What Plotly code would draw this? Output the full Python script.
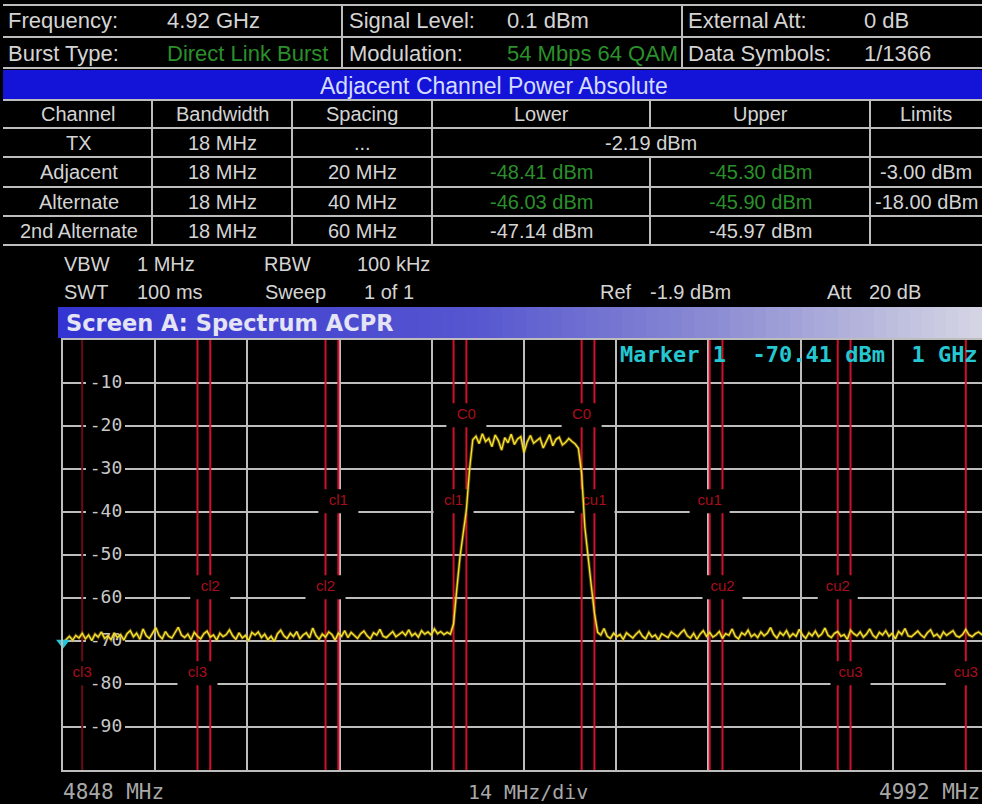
import numpy as np
import plotly.graph_objects as go

FIG_W, FIG_H = 982, 804

# ---------------- instrument settings ----------------
START_MHZ = 4848.0
STOP_MHZ = 4992.0
CENTER_MHZ = 4920.0
CHANNEL_BW_MHZ = 18.0
SPACINGS_MHZ = [20.0, 40.0, 60.0]
LEVEL_TOP_DBM = 0
LEVEL_BOTTOM_DBM = -100
level_ticks = [-10, -20, -30, -40, -50, -60, -70, -80, -90]

marker_level_dbm = -70.41
marker_text = "Marker 1  -70.41 dBm  1 GHz"

# ---------------- measured trace (0.5 MHz sweep points) ----------------
floor_lower = [
    -70.4, -69.6, -68.9, -69.8, -68.7, -69.3, -68.2, -69.5, -68.6, -69.9,
    -68.4, -69.1, -67.9, -69.4, -68.8, -69.7, -68.1, -69.2, -68.5, -69.8,
    -68.3, -67.6, -69.0, -68.2, -69.6, -67.2, -68.8, -69.4, -68.0, -66.9,
    -68.7, -69.5, -67.8, -68.9, -69.3, -68.1, -66.8, -68.6, -69.2, -68.4,
    -69.7, -68.0, -68.9, -69.5, -68.3, -67.7, -69.1, -68.6, -69.8, -68.2,
    -69.0, -68.5, -67.4, -68.8, -69.6, -68.1, -69.3, -68.7, -69.9, -68.0,
    -68.6, -67.9, -69.2, -68.4, -69.7, -68.9, -70.1, -68.3, -67.5, -68.8,
    -69.4, -68.2, -69.0, -67.8, -69.5, -68.6, -68.1, -69.3, -67.0, -68.7,
    -69.6, -68.4, -69.1, -67.9, -68.5, -69.8, -68.2, -68.9, -67.6, -69.2,
    -68.0, -68.7, -69.4, -68.3, -67.7, -68.8, -69.5, -68.1, -68.6, -67.3,
    -68.9, -69.2, -68.4, -67.8, -69.0, -68.5, -67.9, -68.7, -67.4, -68.8,
    -68.2, -69.1, -67.6, -68.4, -67.9, -68.6, -67.2, -68.3, -67.8, -68.5,
    -68.0, -68.4,
]
rising_edge = [-66.0, -58.0, -50.5, -45.0, -39.5, -30.0]
tx_plateau = [
    -23.2, -22.4, -24.1, -21.8, -23.6, -22.9, -24.8, -22.1, -23.4, -25.6,
    -22.7, -23.9, -21.9, -24.3, -23.0, -22.5, -26.2, -23.7, -22.2, -24.0,
    -23.3, -22.8, -25.1, -23.5, -22.0, -24.6, -23.1, -22.6, -24.4, -23.8,
    -22.9, -23.6, -24.2, -25.2,
]
falling_edge = [-31.0, -43.5, -51.0, -57.0, -63.5, -68.0]
floor_upper = [
    -68.6, -67.1, -68.9, -69.4, -68.2, -69.0, -68.5, -69.6, -68.1, -68.8,
    -69.3, -68.4, -67.7, -68.9, -69.5, -68.0, -69.1, -68.6, -69.8, -68.3,
    -68.7, -69.2, -67.9, -68.5, -69.0, -68.1, -67.4, -68.8, -69.3, -68.2,
    -69.6, -68.4, -67.6, -68.9, -68.0, -69.1, -68.6, -67.8, -69.4, -68.3,
    -68.7, -67.2, -68.9, -69.5, -68.1, -68.6, -67.5, -69.0, -68.4, -69.2,
    -67.9, -68.8, -68.2, -66.9, -68.5, -69.3, -68.0, -68.7, -67.6, -69.1,
    -68.3, -68.9, -67.3, -68.6, -69.4, -68.1, -68.8, -67.7, -69.0, -68.4,
    -67.0, -68.7, -69.2, -68.2, -67.8, -68.9, -68.5, -69.6, -67.5, -68.3,
    -68.8, -67.9, -69.1, -68.4, -67.2, -68.7, -69.3, -68.0, -68.6, -67.6,
    -68.9, -68.2, -69.5, -67.8, -68.5, -67.1, -68.8, -69.0, -68.3, -67.7,
    -68.6, -69.2, -68.1, -67.4, -68.9, -68.4, -69.3, -67.9, -68.7, -68.2,
    -67.6, -68.8, -69.1, -68.5, -67.3, -68.6, -69.0, -68.3, -67.9, -68.5,
    -68.8,
]
trace_dbm = floor_lower + rising_edge + tx_plateau + falling_edge + floor_upper
sweep_mhz = np.linspace(START_MHZ, STOP_MHZ, len(trace_dbm))

# ---------------- header / result table ----------------
header_row1 = [("Frequency:", "4.92 GHz"), ("Signal Level:", "0.1 dBm"), ("External Att:", "0 dB")]
header_row2 = [("Burst Type:", "Direct Link Burst"), ("Modulation:", "54 Mbps 64 QAM"),
               ("Data Symbols:", "1/1366")]
header_row2_green = [True, True, False]

table_title = "Adjacent Channel Power Absolute"
table_columns = ["Channel", "Bandwidth", "Spacing", "Lower", "Upper", "Limits"]
channel_names = ["TX", "Adjacent", "Alternate", "2nd Alternate"]
channel_bandwidths = ["18 MHz", "18 MHz", "18 MHz", "18 MHz"]
channel_spacings = ["...", "20 MHz", "40 MHz", "60 MHz"]
power_lower = ["-2.19 dBm", "-48.41 dBm", "-46.03 dBm", "-47.14 dBm"]
power_upper = [None, "-45.30 dBm", "-45.90 dBm", "-45.97 dBm"]
power_green = [False, True, True, False]
power_limits = ["", "-3.00 dBm", "-18.00 dBm", ""]

settings_row1 = [("VBW", "1 MHz"), ("RBW", "100 kHz")]
settings_row2 = [("SWT", "100 ms"), ("Sweep", "1 of 1"), ("Ref", "-1.9 dBm"), ("Att", "20 dB")]

# ---------------- geometry / style ----------------
SANS = "Liberation Sans, Arial, sans-serif"
MONO = "DejaVu Sans Mono, monospace"
TXT = "#d4d4d4"
GREEN = "#2b8f2b"
GRID = "#bdbdbd"
RED = "#cf1028"
RED_DIM = "#6a0c16"
LABEL_RED = "#a80e1c"

PLOT_L, PLOT_T, PLOT_B = 63, 340, 770
PX_SPAN = 922  # pixels covered by the full span
x_end = START_MHZ + (STOP_MHZ - START_MHZ) * (FIG_W - PLOT_L) / PX_SPAN
mhz_per_px = (STOP_MHZ - START_MHZ) / PX_SPAN
db_per_px = (LEVEL_TOP_DBM - LEVEL_BOTTOM_DBM) / (PLOT_B - PLOT_T)


def fx(p):
    return p / FIG_W


def fy(p):
    return 1 - p / FIG_H


annotations = []
shapes = []


def text(x, y, s, size, color, anchor="left", family=SANS):
    annotations.append(dict(xref="paper", yref="paper", x=fx(x), y=fy(y), text=s,
                            showarrow=False, xanchor=anchor, yanchor="middle",
                            font=dict(family=family, size=size, color=color)))


def line_px(x0, y0, x1, y1, color=GRID, width=2):
    shapes.append(dict(type="line", xref="paper", yref="paper", x0=fx(x0), x1=fx(x1),
                       y0=fy(y0), y1=fy(y1), line=dict(color=color, width=width)))


def rect_px(x0, y0, x1, y1, color):
    shapes.append(dict(type="rect", xref="paper", yref="paper", x0=fx(x0), x1=fx(x1),
                       y0=fy(y0), y1=fy(y1), fillcolor=color, line=dict(width=0), layer="below"))


# header rows
for yl in (5, 37, 68):
    line_px(3, yl, FIG_W, yl)
for xv in (342, 682):
    line_px(xv, 5, xv, 68)
col_label_x = [6, 347, 686]
col_value_x = [165, 505, 862]
for i, (lab, val) in enumerate(header_row1):
    text(col_label_x[i], 20, lab, 22, TXT)
    text(col_value_x[i], 20, val, 22, TXT)
for i, (lab, val) in enumerate(header_row2):
    text(col_label_x[i], 53, lab, 22, TXT)
    text(col_value_x[i], 53, val, 22, GREEN if header_row2_green[i] else TXT)

# table title bar
rect_px(3, 70, FIG_W, 100, "#1414d8")
text(494, 86, table_title, 23, "#d4dcff", anchor="center")

# table grid
COL_X = [5, 152, 292, 432, 650, 870, FIG_W]
ROW_Y = [100, 128, 157, 187, 216, 245]
for yl in ROW_Y:
    line_px(3, yl, FIG_W, yl)
for xv in (152, 292, 432, 870):
    line_px(xv, 100, xv, 245)
line_px(650, 100, 650, 128)
line_px(650, 157, 650, 245)

col_c = [(COL_X[i] + COL_X[i + 1]) / 2 for i in range(6)]
for i, c in enumerate(table_columns):
    text(col_c[i], 114, c, 20, TXT, anchor="center")
row_c = [(ROW_Y[i] + ROW_Y[i + 1]) / 2 for i in range(1, 5)]
for r in range(4):
    yc = row_c[r]
    text(col_c[0], yc, channel_names[r], 20, TXT, anchor="center")
    text(col_c[1], yc, channel_bandwidths[r], 20, TXT, anchor="center")
    text(col_c[2], yc, channel_spacings[r], 20, TXT, anchor="center")
    pc = GREEN if power_green[r] else TXT
    if power_upper[r] is None:
        text((COL_X[3] + COL_X[5]) / 2, yc, power_lower[r], 20, TXT, anchor="center")
    else:
        text(col_c[3], yc, power_lower[r], 20, pc, anchor="center")
        text(col_c[4], yc, power_upper[r], 20, pc, anchor="center")
    text(col_c[5], yc, power_limits[r], 20, TXT, anchor="center")

# sweep settings
text(62, 264, settings_row1[0][0], 20, TXT)
text(135, 264, settings_row1[0][1], 20, TXT)
text(262, 264, settings_row1[1][0], 20, TXT)
text(355, 264, settings_row1[1][1], 20, TXT)
for (lab, val), lx, vx in zip(settings_row2, [62, 263, 598, 825], [135, 362, 648, 867]):
    text(lx, 292, lab, 20, TXT)
    text(vx, 292, val, 20, TXT)

# screen title bar with horizontal colour fade
stops = [(0.0, (52, 52, 210)), (0.45, (86, 86, 208)), (0.72, (142, 142, 212)), (1.0, (214, 214, 228))]


def fade(t):
    for (t0, c0), (t1, c1) in zip(stops[:-1], stops[1:]):
        if t <= t1:
            u = (t - t0) / (t1 - t0)
            return "rgb(%d,%d,%d)" % tuple(round(a + (b - a) * u) for a, b in zip(c0, c1))
    return "rgb(%d,%d,%d)" % stops[-1][1]


BAR_X0, BAR_X1, N_SEG = 58, FIG_W, 77
seg_w = (BAR_X1 - BAR_X0) / N_SEG
for k in range(N_SEG):
    rect_px(BAR_X0 + k * seg_w, 307, BAR_X0 + (k + 1) * seg_w + 0.6, 338, fade((k + 0.5) / N_SEG))
annotations.append(dict(xref="paper", yref="paper", x=fx(64), y=fy(323),
                        text="<b>Screen A: Spectrum ACPR</b>", showarrow=False,
                        xanchor="left", yanchor="middle",
                        font=dict(family="DejaVu Sans, sans-serif", size=22.5, color="#e4e4f4")))

# marker readout and frequency axis captions
annotations.append(dict(xref="paper", yref="paper", x=fx(618), y=fy(354),
                        text="<b>" + marker_text.replace(" ", "&nbsp;") + "</b>",
                        showarrow=False, xanchor="left", yanchor="middle",
                        font=dict(family=MONO, size=22, color="#25c8d2")))
text(61, 792, "%d MHz" % START_MHZ, 21, "#a8a8a8", family=MONO)
text(528, 792, "14 MHz/div", 20, "#a8a8a8", anchor="center", family=MONO)
text(FIG_W, 792, "%d MHz" % STOP_MHZ, 21, "#a8a8a8", anchor="right", family=MONO)

# ---------------- channel edges ----------------
edges = []  # (freq, label, label level)
half = CHANNEL_BW_MHZ / 2
for f in (CENTER_MHZ - half, CENTER_MHZ + half):
    edges.append((f, "C0", -17.5))
for k, sp in enumerate(SPACINGS_MHZ):
    lvl = -37.5 - 20 * k
    for f in (CENTER_MHZ - sp - half, CENTER_MHZ - sp + half):
        edges.append((f, "cl%d" % (k + 1), lvl))
    for f in (CENTER_MHZ + sp - half, CENTER_MHZ + sp + half):
        edges.append((f, "cu%d" % (k + 1), lvl))
outermost = min(e[0] for e in edges)
for f, lab, lvl in edges:
    shapes.append(dict(type="line", xref="x", yref="y", x0=f, x1=f,
                       y0=LEVEL_BOTTOM_DBM, y1=LEVEL_TOP_DBM, layer="between",
                       line=dict(color=RED_DIM if f == outermost else RED, width=2)))

# black boxes behind in-graph labels
box_hw_mhz = 20 * mhz_per_px
box_hh_db = 12 * db_per_px
for f, lab, lvl in edges:
    shapes.append(dict(type="rect", xref="x", yref="y", x0=f - box_hw_mhz, x1=f + box_hw_mhz,
                       y0=lvl - box_hh_db, y1=lvl + box_hh_db, fillcolor="black",
                       line=dict(width=0), layer="between"))
tick_x = START_MHZ + (106 - PLOT_L) * mhz_per_px
for v in level_ticks:
    shapes.append(dict(type="rect", xref="x", yref="y",
                       x0=START_MHZ + (86 - PLOT_L) * mhz_per_px,
                       x1=START_MHZ + (125 - PLOT_L) * mhz_per_px,
                       y0=v - 10 * db_per_px, y1=v + 10 * db_per_px, fillcolor="black",
                       line=dict(width=0), layer="between"))

fig = go.Figure()
fig.add_trace(go.Scatter(x=[tick_x] * len(level_ticks), y=level_ticks, mode="text",
                         text=[str(v) for v in level_ticks],
                         textfont=dict(family=MONO, size=18, color="#c8c8c8"),
                         hoverinfo="skip", showlegend=False))
fig.add_trace(go.Scatter(x=[e[0] for e in edges], y=[e[2] for e in edges], mode="text",
                         text=[e[1] for e in edges],
                         textfont=dict(family=SANS, size=15, color=LABEL_RED),
                         hoverinfo="skip", showlegend=False))
fig.add_trace(go.Scatter(x=sweep_mhz, y=trace_dbm, mode="lines",
                         line=dict(color="rgba(210,150,20,0.45)", width=3.2),
                         hoverinfo="skip", showlegend=False))
fig.add_trace(go.Scatter(x=sweep_mhz, y=trace_dbm, mode="lines",
                         line=dict(color="#efe42e", width=1.4), showlegend=False))
fig.add_trace(go.Scatter(x=[START_MHZ], y=[marker_level_dbm], mode="markers",
                         marker=dict(symbol="triangle-down", size=12, color="#22c8d8"),
                         cliponaxis=False, showlegend=False))

fig.update_layout(
    width=FIG_W, height=FIG_H,
    margin=dict(l=0, r=0, t=0, b=0, pad=0),
    paper_bgcolor="black", plot_bgcolor="black",
    showlegend=False,
    shapes=shapes, annotations=annotations,
    xaxis=dict(domain=[PLOT_L / FIG_W, 1], range=[START_MHZ, x_end],
               tick0=START_MHZ, dtick=(STOP_MHZ - START_MHZ) / 10,
               showgrid=True, gridcolor=GRID, gridwidth=1.5, zeroline=False,
               showticklabels=False, ticks="", showline=True, mirror=True,
               linecolor=GRID, linewidth=2),
    yaxis=dict(domain=[(FIG_H - PLOT_B) / FIG_H, (FIG_H - PLOT_T) / FIG_H],
               range=[LEVEL_BOTTOM_DBM, LEVEL_TOP_DBM], dtick=10,
               showgrid=True, gridcolor=GRID, gridwidth=1.5, zeroline=False,
               showticklabels=False, ticks="", showline=True, mirror=False,
               linecolor=GRID, linewidth=2),
)

fig.write_html("out.html")
